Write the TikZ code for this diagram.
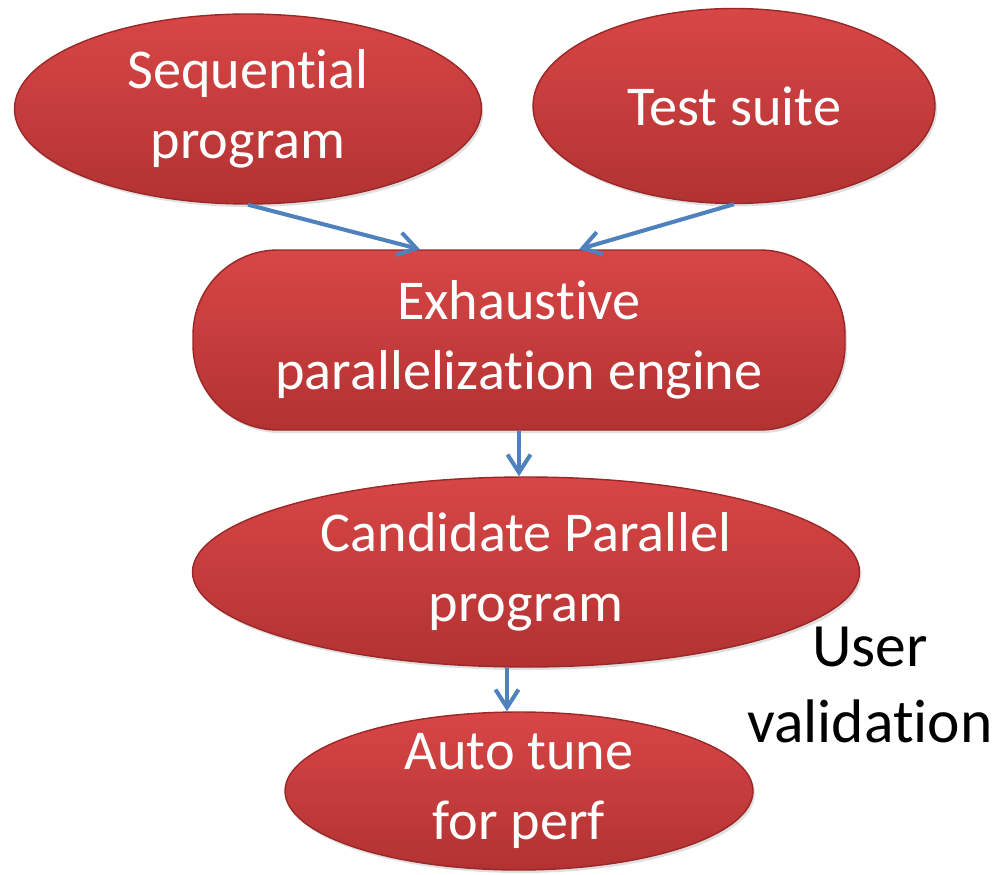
\documentclass[tikz,border=0pt]{standalone}
\usepackage{fontspec}
\setmainfont[Ligatures=NoCommon]{Carlito}
\usetikzlibrary{positioning,arrows.meta,shapes.geometric,shadows}
\definecolor{redtop}{HTML}{D84646}
\definecolor{redbot}{HTML}{B23232}
\definecolor{rededge}{HTML}{9A2828}
\definecolor{arrowblue}{HTML}{4F81BD}

\begin{document}
\begin{tikzpicture}[x=1cm,y=1cm,
  blob/.style={ellipse,draw=rededge,line width=.8pt,top color=redtop,bottom color=redbot,text=white,align=center,inner sep=0pt,
    font=\fontsize{32}{39.8}\selectfont,drop shadow={opacity=.25,shadow xshift=.04cm,shadow yshift=-.06cm}},
  flow/.style={-{Straight Barb[length=3.6mm,width=4.6mm]},arrowblue,line width=2.3pt}]
\useasboundingbox (0,0) rectangle (20.1,17.48);
\node[blob,minimum width=9.34cm,minimum height=3.8cm] (seq) at (4.96,15.3){Sequential\\program};
\node[blob,minimum width=8.04cm,minimum height=3.9cm] (test) at (14.68,15.36){Test suite};
\node[blob,rectangle,rounded corners=1.7cm,minimum width=13.04cm,minimum height=3.6cm] (exh) at (10.38,10.68){Exhaustive\\parallelization engine};
\node[blob,minimum width=13.34cm,minimum height=3.8cm] (cand) at (10.52,6.04){Candidate Parallel\\program};
\node[blob,inner ysep=-2mm,minimum width=9.36cm,minimum height=3.16cm] (auto) at (10.38,1.66){Auto tune\\for perf};
\node[align=center,font=\fontsize{35}{43.2}\selectfont] (user) at (17.4,3.78){User\\validation};
\draw[flow] (seq.south)--([xshift=-1.98cm]exh.north);\draw[flow] (test.south)--([xshift=1.2cm]exh.north);
\draw[flow] (exh.south)--(exh.south |- cand.north);
\draw[flow] ([xshift=-.38cm]cand.south)--([xshift=-.38cm]cand.south |- auto.north);
\end{tikzpicture}
\end{document}
